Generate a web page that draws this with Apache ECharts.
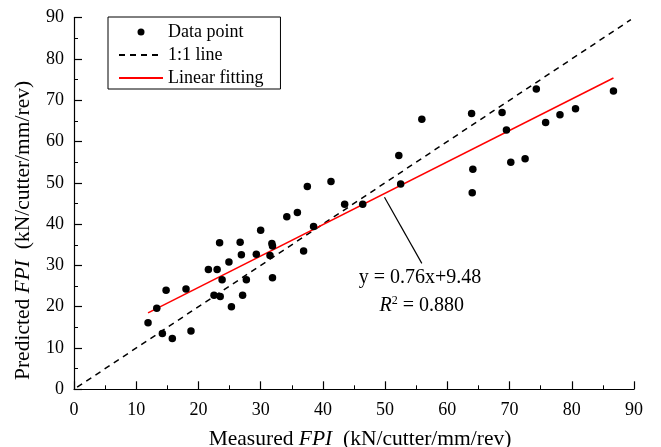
<!DOCTYPE html>
<html><head><meta charset="utf-8">
<script src="https://cdn.jsdelivr.net/npm/echarts@6/dist/echarts.min.js"></script>
<style>html,body{margin:0;padding:0;background:#fff}#c{width:661px;height:447px}</style>
</head><body><div id="c"></div>
<script>
// Measured FPI vs Predicted FPI
const measured = [11.9,13.3,14.2,14.8,15.8,18.0,18.8,21.6,22.5,23.0,23.4,23.5,23.8,24.9,25.3,26.7,26.9,27.1,27.7,29.3,30.0,31.5,31.8,31.9,31.9,34.2,35.9,36.9,37.5,38.5,41.3,43.5,46.4,52.5,52.2,55.9,63.9,64.1,64.0,68.8,69.5,70.2,72.5,74.3,75.8,78.1,80.6,86.7];
const predicted = [16.1,19.6,13.5,24.0,12.3,24.3,14.1,29.0,22.8,29.0,35.5,22.5,26.5,30.8,20.0,35.6,32.6,22.8,26.5,32.7,38.5,32.4,35.3,34.7,27.0,41.8,42.8,33.5,49.1,39.4,50.3,44.8,44.8,49.7,56.6,65.4,66.8,53.3,47.6,67.0,62.8,55.0,55.8,72.7,64.6,66.5,67.9,72.2];
const fitX = [11.9, 86.7];
const slope = 0.76, intercept = 9.48;
const oneToOneX = [0.5, 89.5];
const eqText = 'y = 0.76x+9.48';
const r2Text = '0.880';
const leader = [[49.9,46.5],[55.9,30.5]];
const eqPos = [55.6,27.1];
const r2Pos = [55.9,20.3];

const FONT = 'Liberation Serif';
const chart = echarts.init(document.getElementById('c'));
function nameStyle(pad) {
  return {color: '#000', fontFamily: FONT, fontSize: 21.5, padding: pad,
    rich: {n: {fontFamily: FONT, fontSize: 21.5, color: '#000'}, i: {fontFamily: FONT, fontSize: 21.5, fontStyle: 'italic', color: '#000'}}};
}
const axisCommon = {
  min: 0, max: 90, interval: 10,
  axisLine: {show: true, lineStyle: {color: '#000', width: 1.2}},
  axisTick: {show: true, inside: true, length: 8, lineStyle: {color: '#000', width: 1.2}},
  minorTick: {show: true, splitNumber: 2, length: 4, lineStyle: {color: '#000', width: 1}},
  splitLine: {show: false},
  axisLabel: {color: '#000', fontFamily: FONT, fontSize: 18},
  nameLocation: 'middle'
};
chart.setOption({
  animation: false,
  grid: {left: 74, right: 27, top: 17.6, bottom: 57.7, containLabel: false, outerBoundsMode: 'none'},
  legend: {
    left: 108, top: 17, orient: 'vertical',
    borderColor: '#000', borderWidth: 1, padding: [6, 17, 2, 10],
    itemWidth: 44, itemHeight: 7, itemGap: 5,
    textStyle: {color: '#000', fontFamily: FONT, fontSize: 18},
    data: [
      {name: 'Data point'},
      {name: '1:1 line', itemStyle: {opacity: 0}},
      {name: 'Linear fitting', itemStyle: {opacity: 0}}
    ]
  },
  xAxis: Object.assign({}, axisCommon, {
    type: 'value', name: '{n|Measured }{i|FPI}{n|  (kN/cutter/mm/rev)}', nameGap: 39,
    nameTextStyle: nameStyle([0, 0, 0, 12]),
    axisLabel: Object.assign({}, axisCommon.axisLabel, {margin: 12})
  }),
  yAxis: Object.assign({}, axisCommon, {
    type: 'value', name: '{n|Predicted }{i|FPI}{n|  (kN/cutter/mm/rev)}', nameGap: 40,
    nameTextStyle: nameStyle([0, 54, 0, 0]),
    axisLabel: Object.assign({}, axisCommon.axisLabel, {margin: 10})
  }),
  series: [
    {name: 'Data point', type: 'scatter', symbol: 'circle', symbolSize: 7.5,
     itemStyle: {color: '#000', opacity: 1}, data: measured.map((x, i) => [x, predicted[i]]), z: 5},
    {name: '1:1 line', type: 'line', symbol: 'none', showSymbol: false,
     lineStyle: {color: '#000', width: 1.5, type: [6, 5]}, itemStyle: {color: '#000'},
     data: oneToOneX.map(x => [x, x]), z: 3},
    {name: 'Linear fitting', type: 'line', symbol: 'none', showSymbol: false,
     lineStyle: {color: '#ff0000', width: 1.5}, itemStyle: {color: '#ff0000'},
     data: fitX.map(x => [x, slope * x + intercept]), z: 4}
  ]
});
const p0 = chart.convertToPixel({gridIndex: 0}, leader[0]);
const p1 = chart.convertToPixel({gridIndex: 0}, leader[1]);
const e = chart.convertToPixel({gridIndex: 0}, eqPos);
const r = chart.convertToPixel({gridIndex: 0}, r2Pos);
chart.setOption({
  graphic: [
    {type: 'line', shape: {x1: p0[0], y1: p0[1], x2: p1[0], y2: p1[1]}, style: {stroke: '#000', lineWidth: 1.2}},
    {type: 'text', x: e[0], y: e[1], style: {text: eqText, font: '20px "Liberation Serif"', fill: '#000', align: 'center', verticalAlign: 'middle'}},
    {type: 'text', x: r[0], y: r[1], style: {text: '{i|R}{s|2}{n| = ' + r2Text + '}', align: 'center', verticalAlign: 'middle',
      rich: {i: {font: 'italic 20px "Liberation Serif"', fill: '#000'}, s: {font: '12px "Liberation Serif"', fill: '#000', padding: [0,0,9,0]}, n: {font: '20px "Liberation Serif"', fill: '#000'}}}}
  ]
});
</script></body></html>
